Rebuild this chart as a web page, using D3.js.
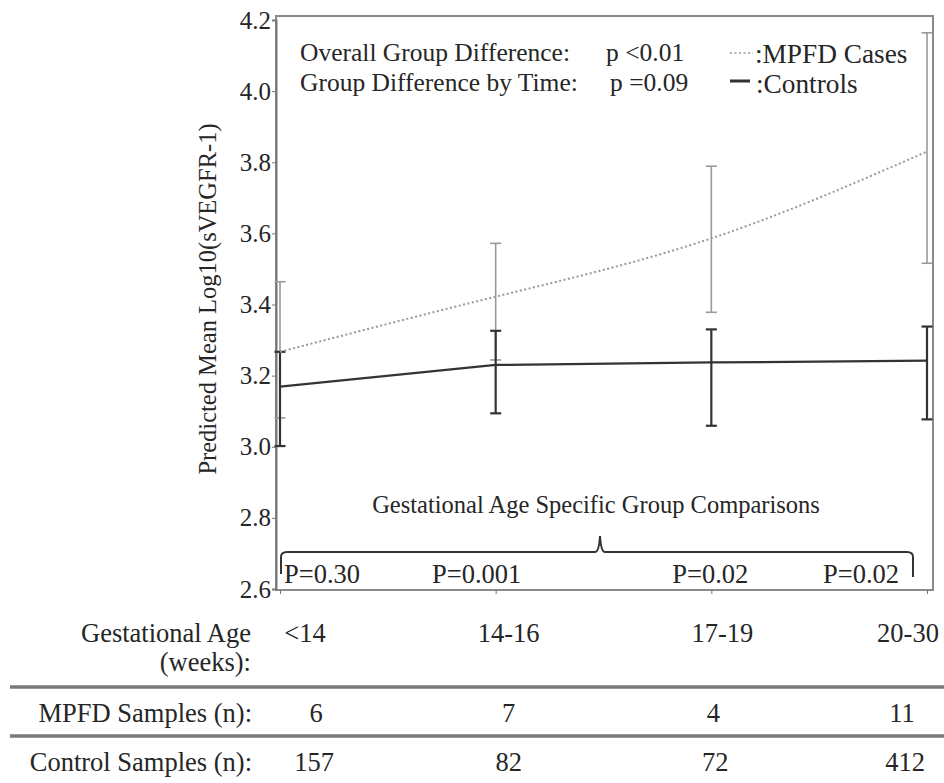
<!DOCTYPE html>
<html><head><meta charset="utf-8">
<script src="https://cdn.jsdelivr.net/npm/d3@7"></script>
<style>body{margin:0;background:#fff}svg{display:block}text{font-family:"Liberation Serif","Times New Roman",serif;fill:#262626}</style>
</head><body>
<script>
const categories = ["<14", "14-16", "17-19", "20-30"];
const mpfdMean  = [3.267, 3.422, 3.586, 3.830];
const mpfdLower = [3.081, 3.244, 3.378, 3.516];
const mpfdUpper = [3.464, 3.572, 3.789, 4.164];
const ctrlMean  = [3.169, 3.230, 3.237, 3.242];
const ctrlLower = [3.002, 3.094, 3.059, 3.077];
const ctrlUpper = [3.267, 3.326, 3.330, 3.338];
const yTicks = [2.6, 2.8, 3.0, 3.2, 3.4, 3.6, 3.8, 4.0, 4.2];
const pValues = ["P=0.30", "P=0.001", "P=0.02", "P=0.02"];
const mpfdN = [6, 7, 4, 11];
const ctrlN = [157, 82, 72, 412];

const W = 944, H = 783;
const svg = d3.select("body").append("svg").attr("width", W).attr("height", H);

const frame = {left: 276, right: 933, top: 16, bottom: 590};
const x = d3.scalePoint().domain(categories).range([280, 927]);
const y = d3.scaleLinear().domain([2.6, 4.2]).range([589, 20]);

// frame
svg.append("rect").attr("x", frame.left).attr("y", frame.top)
  .attr("width", frame.right - frame.left).attr("height", frame.bottom - frame.top)
  .attr("fill", "none").attr("stroke", "#8a8a8a").attr("stroke-width", 2);

// y axis
const yAxis = d3.axisLeft(y).tickValues(yTicks).tickFormat(d3.format(".1f")).tickSize(4).tickPadding(1);
const gy = svg.append("g").attr("transform", `translate(${frame.left},0)`).call(yAxis);
gy.select(".domain").attr("stroke", "#777").attr("stroke-width", 2);
gy.selectAll(".tick line").attr("stroke", "#777");
gy.selectAll(".tick text").attr("font-size", 25).attr("fill", "#4a4a4a")
  .attr("font-family", "Liberation Serif, serif");

// x axis ticks
const xAxis = d3.axisBottom(x).tickSize(4).tickFormat("");
const gx = svg.append("g").attr("transform", `translate(0,${frame.bottom})`).call(xAxis);
gx.select(".domain").remove();
gx.selectAll(".tick line").attr("stroke", "#777");

// y title
svg.append("text").attr("transform", `translate(216,299) rotate(-90)`)
  .attr("text-anchor", "middle").attr("font-size", 24.5).attr("fill", "#333")
  .text("Predicted Mean Log10(sVEGFR-1)");

// error bars helper
function errBars(lower, upper, color, sw, cls) {
  const g = svg.append("g").attr("class", cls);
  categories.forEach((c, i) => {
    const cx = x(c);
    g.append("line").attr("x1", cx).attr("x2", cx).attr("y1", y(lower[i])).attr("y2", y(upper[i]))
      .attr("stroke", color).attr("stroke-width", sw);
    [lower[i], upper[i]].forEach(v => {
      g.append("line").attr("x1", cx - 5.5).attr("x2", cx + 5.5).attr("y1", y(v)).attr("y2", y(v))
        .attr("stroke", color).attr("stroke-width", sw);
    });
  });
}
errBars(mpfdLower, mpfdUpper, "#9a9a9a", 1.6, "mpfd-err");
errBars(ctrlLower, ctrlUpper, "#333", 2.2, "ctrl-err");

// lines
const mpfdLine = d3.line().x((d, i) => x(categories[i])).y(d => y(d)).curve(d3.curveNatural);
const ctrlLine = d3.line().x((d, i) => x(categories[i])).y(d => y(d));
svg.append("path").datum(mpfdMean).attr("d", mpfdLine)
  .attr("fill", "none").attr("stroke", "#999").attr("stroke-width", 2).attr("stroke-dasharray", "2,2.5");
svg.append("path").datum(ctrlMean).attr("d", ctrlLine)
  .attr("fill", "none").attr("stroke", "#333").attr("stroke-width", 2.2);

// annotation text
const ann = svg.append("g").attr("font-size", 25.5);
ann.append("text").attr("x", 300).attr("y", 61).text("Overall Group Difference:");
ann.append("text").attr("x", 606).attr("y", 61).text("p <0.01");
ann.append("text").attr("x", 300).attr("y", 91).text("Group Difference by Time:");
ann.append("text").attr("x", 610).attr("y", 91).text("p =0.09");

// legend
svg.append("line").attr("x1", 730).attr("x2", 753).attr("y1", 53).attr("y2", 53)
  .attr("stroke", "#999").attr("stroke-width", 1.6).attr("stroke-dasharray", "2,2.5");
svg.append("text").attr("x", 755).attr("y", 63).attr("font-size", 27.3).text(":MPFD Cases");
svg.append("line").attr("x1", 730).attr("x2", 750).attr("y1", 81).attr("y2", 81)
  .attr("stroke", "#333").attr("stroke-width", 3);
svg.append("text").attr("x", 756).attr("y", 93).attr("font-size", 27.3).text(":Controls");

// brace and group comparisons
svg.append("text").attr("x", 596).attr("y", 513).attr("text-anchor", "middle").attr("font-size", 24.5)
  .text("Gestational Age Specific Group Comparisons");
const bL = 281, bR = 913, bMid = 600, bY = 552, tipY = 536;
svg.append("path").attr("d",
  `M${bL},574 L${bL},${bY + 5} Q${bL},${bY} ${bL + 6},${bY} L${bMid - 5},${bY} Q${bMid - 1},${bY} ${bMid},${tipY} Q${bMid + 1},${bY} ${bMid + 5},${bY} L${bR - 6},${bY} Q${bR},${bY} ${bR},${bY + 5} L${bR},577`)
  .attr("fill", "none").attr("stroke", "#333").attr("stroke-width", 2);
const pOffsets = [42, -19, -1, -66];
svg.append("g").selectAll("text").data(pValues).join("text")
  .attr("x", (d, i) => x(categories[i]) + pOffsets[i]).attr("y", 583)
  .attr("text-anchor", "middle").attr("font-size", 26.5).text(d => d);

// table
const tbl = svg.append("g").attr("font-size", 26.5);
tbl.append("text").attr("x", 251).attr("y", 642).attr("text-anchor", "end").text("Gestational Age");
tbl.append("text").attr("x", 251).attr("y", 671).attr("text-anchor", "end").text("(weeks):");
const colOffsets = [25, 13, 11, -19];
tbl.selectAll("text.cat").data(categories).join("text").attr("class", "cat")
  .attr("x", (d, i) => x(d) + colOffsets[i]).attr("y", 642).attr("text-anchor", "middle").text(d => d);

svg.append("line").attr("x1", 10).attr("x2", 944).attr("y1", 687).attr("y2", 687).attr("stroke", "#7a7a7a").attr("stroke-width", 3.5);
svg.append("line").attr("x1", 10).attr("x2", 944).attr("y1", 736).attr("y2", 736).attr("stroke", "#7a7a7a").attr("stroke-width", 3.5);

tbl.append("text").attr("x", 252).attr("y", 722).attr("text-anchor", "end").text("MPFD Samples (n):");
const nOffsets = [36, 13, 2, -25];
tbl.selectAll("text.mn").data(mpfdN).join("text").attr("class", "mn")
  .attr("x", (d, i) => x(categories[i]) + nOffsets[i]).attr("y", 722).attr("text-anchor", "middle").text(d => d);
tbl.append("text").attr("x", 252).attr("y", 771).attr("text-anchor", "end").text("Control Samples (n):");
const cOffsets = [34, 13, 4, -22];
tbl.selectAll("text.cn").data(ctrlN).join("text").attr("class", "cn")
  .attr("x", (d, i) => x(categories[i]) + cOffsets[i]).attr("y", 771).attr("text-anchor", "middle").text(d => d);
</script>
</body></html>
